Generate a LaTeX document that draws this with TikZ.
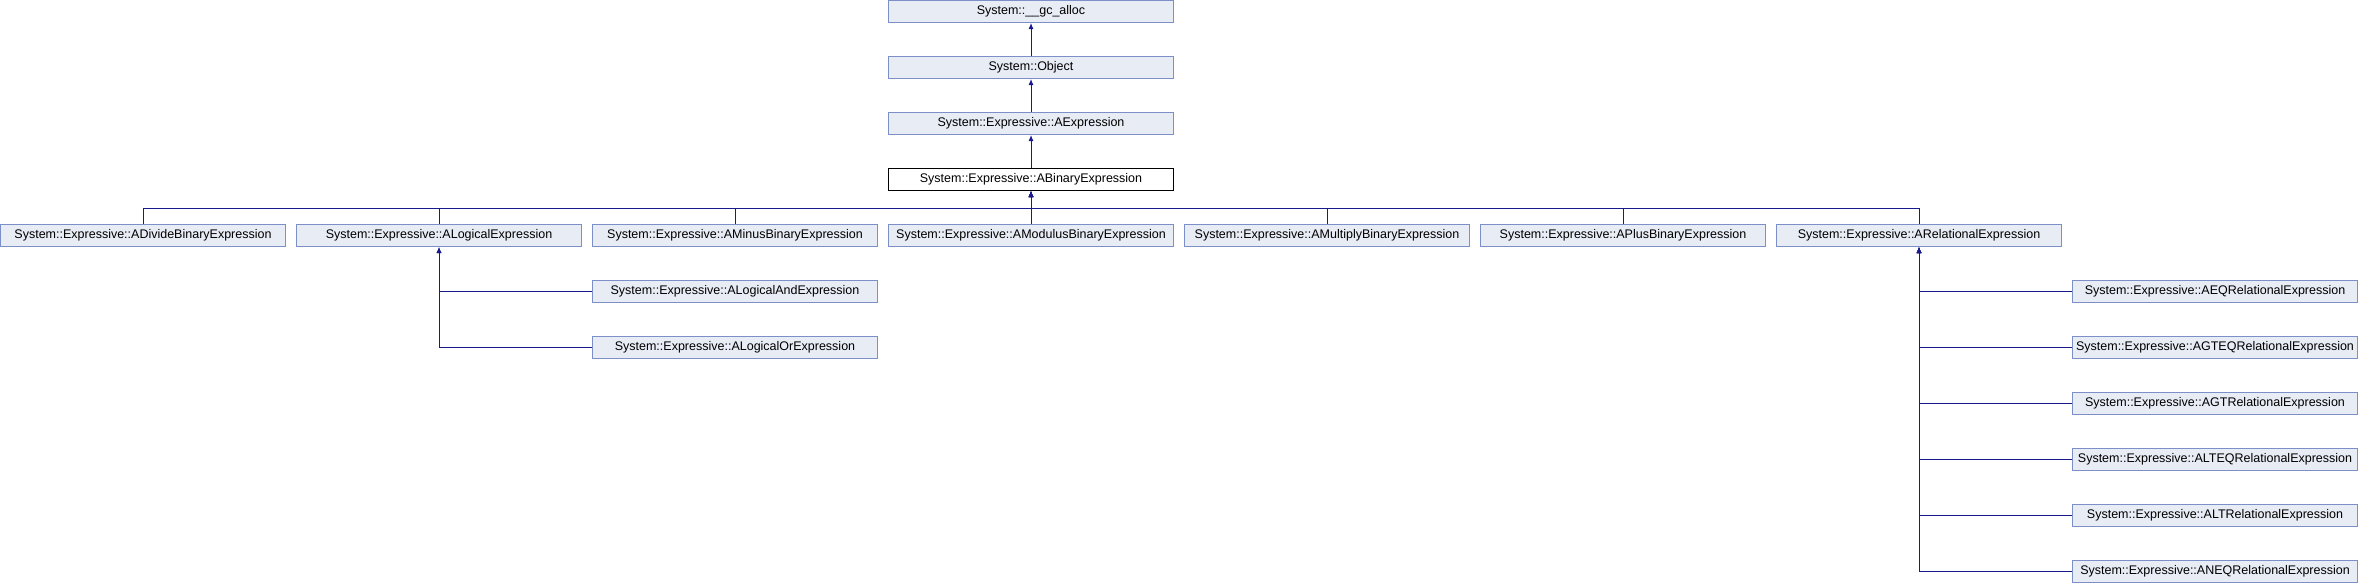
\documentclass[tikz,border=0pt]{standalone}
\usepackage{fontspec}
\setmainfont{Liberation Sans}
\usetikzlibrary{positioning}
\usetikzlibrary{arrows.meta}
\definecolor{boxfill}{RGB}{232,236,245}
\definecolor{boxline}{RGB}{124,143,200}
\definecolor{edgeblue}{RGB}{25,25,140}
\tikzset{
  cls/.style={draw=boxline,fill=boxfill,line width=1pt,minimum width=285pt,minimum height=22pt,inner sep=0pt,font=\fontsize{12.5}{15}\selectfont},
  cur/.style={cls,draw=black,fill=white},
  inh/.style={draw=edgeblue,line width=1pt,-{Latex[length=6pt,width=5pt]}}
}
\begin{document}
\begin{tikzpicture}[x=1pt,y=-1pt]
\useasboundingbox (0,0) rectangle (2358,584);
\node[cls] (gcalloc) at (1031,11.5) {System::\_\_gc\_alloc};
\node[cls] (object) at (1031,67.5) {System::Object};
\node[cls] (aexpr) at (1031,123.5) {System::Expressive::AExpression};
\node[cur] (abin) at (1031,179.5) {System::Expressive::ABinaryExpression};
\node[cls] (adivide) at (143,235.5) {System::Expressive::ADivideBinaryExpression};
\node[cls] (alogical) at (439,235.5) {System::Expressive::ALogicalExpression};
\node[cls] (aminus) at (735,235.5) {System::Expressive::AMinusBinaryExpression};
\node[cls] (amodulus) at (1031,235.5) {System::Expressive::AModulusBinaryExpression};
\node[cls] (amultiply) at (1327,235.5) {System::Expressive::AMultiplyBinaryExpression};
\node[cls] (aplus) at (1623,235.5) {System::Expressive::APlusBinaryExpression};
\node[cls] (arel) at (1919,235.5) {System::Expressive::ARelationalExpression};
\node[cls] (aand) at (735,291.5) {System::Expressive::ALogicalAndExpression};
\node[cls] (aor) at (735,347.5) {System::Expressive::ALogicalOrExpression};
\node[cls] (aeq) at (2215,291.5) {System::Expressive::AEQRelationalExpression};
\node[cls] (agteq) at (2215,347.5) {System::Expressive::AGTEQRelationalExpression};
\node[cls] (agt) at (2215,403.5) {System::Expressive::AGTRelationalExpression};
\node[cls] (alteq) at (2215,459.5) {System::Expressive::ALTEQRelationalExpression};
\node[cls] (alt) at (2215,515.5) {System::Expressive::ALTRelationalExpression};
\node[cls] (aneq) at (2215,571.5) {System::Expressive::ANEQRelationalExpression};
\coordinate (bus) at (1031,208);
\draw[inh] (object.north) -- (gcalloc.south);
\draw[inh] (aexpr.north) -- (object.south);
\draw[inh] (abin.north) -- (aexpr.south);
\draw[inh] (adivide.north) |- (bus) -- (abin.south);
\draw[inh] (alogical.north) |- (bus) -- (abin.south);
\draw[inh] (aminus.north) |- (bus) -- (abin.south);
\draw[inh] (amodulus.north) -- (abin.south);
\draw[inh] (amultiply.north) |- (bus) -- (abin.south);
\draw[inh] (aplus.north) |- (bus) -- (abin.south);
\draw[inh] (arel.north) |- (bus) -- (abin.south);
\draw[inh] (aand.west) -| (alogical.south);
\draw[inh] (aor.west) -| (alogical.south);
\draw[inh] (aeq.west) -| (arel.south);
\draw[inh] (agteq.west) -| (arel.south);
\draw[inh] (agt.west) -| (arel.south);
\draw[inh] (alteq.west) -| (arel.south);
\draw[inh] (alt.west) -| (arel.south);
\draw[inh] (aneq.west) -| (arel.south);
\end{tikzpicture}
\end{document}
